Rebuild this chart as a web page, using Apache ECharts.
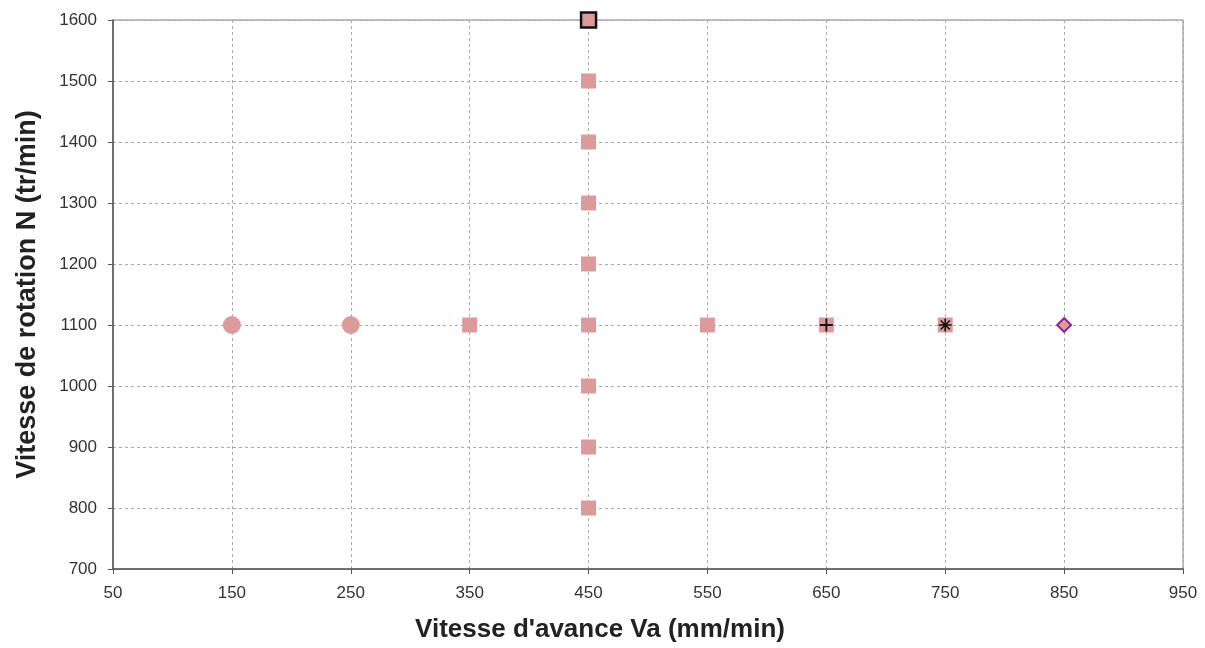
<!DOCTYPE html>
<html>
<head>
<meta charset="utf-8">
<script src="https://cdn.jsdelivr.net/npm/echarts@6/dist/echarts.min.js"></script>
<style>
  html, body { margin: 0; padding: 0; background: #fff; }
  #main { width: 1205px; height: 648px; }
</style>
</head>
<body>
<div id="main"></div>
<script>
// data
var xTicks = [50, 150, 250, 350, 450, 550, 650, 750, 850, 950];
var yTicks = [700, 800, 900, 1000, 1100, 1200, 1300, 1400, 1500, 1600];
var circlePts = [[150, 1100], [250, 1100]];
var squarePts = [[350, 1100], [450, 800], [450, 900], [450, 1000], [450, 1100],
                 [450, 1200], [450, 1300], [450, 1400], [450, 1500],
                 [550, 1100], [650, 1100], [750, 1100]];
var topPt = [[450, 1600]];
var plusPts = [[650, 1100]];
var starPts = [[750, 1100]];
var diamondPts = [[850, 1100]];

var pink = '#dc9a9a';
var font = '"Liberation Sans", Arial, sans-serif';

var chart = echarts.init(document.getElementById('main'));
chart.setOption({
  animation: false,
  textStyle: { fontFamily: font },
  grid: {
    left: 113, right: 22, top: 20, bottom: 77,
    show: true, borderColor: '#808080', borderWidth: 1
  },
  xAxis: {
    type: 'value', min: xTicks[0], max: xTicks[xTicks.length - 1], interval: 100,
    name: "Vitesse d'avance Va (mm/min)", nameLocation: 'middle', nameGap: 48,
    nameTextStyle: { fontSize: 26, fontWeight: 'bold', color: '#222', fontFamily: font,
                     padding: [0, 96, 0, 0] },
    axisLine: { lineStyle: { color: '#555', width: 1.5 } },
    axisTick: { show: true, inside: false, length: 5, lineStyle: { color: '#555' } },
    axisLabel: { fontSize: 17, color: '#333', margin: 16, formatter: function (v) { return String(v); } },
    splitLine: { show: true, lineStyle: { type: [3, 3], color: '#aaa' } }
  },
  yAxis: {
    type: 'value', min: yTicks[0], max: yTicks[yTicks.length - 1], interval: 100,
    name: 'Vitesse de rotation N (tr/min)', nameLocation: 'middle', nameGap: 72,
    nameTextStyle: { fontSize: 27, fontWeight: 'bold', color: '#222', fontFamily: font },
    axisLine: { show: true, lineStyle: { color: '#555', width: 1.5 } },
    axisTick: { show: true, inside: false, length: 5, lineStyle: { color: '#555' } },
    axisLabel: { fontSize: 17, color: '#333', margin: 16, formatter: function (v) { return String(v); } },
    splitLine: { show: true, lineStyle: { type: [3, 3], color: '#aaa' } }
  },
  series: [
    { type: 'scatter', data: circlePts, symbol: 'circle', symbolSize: 18,
      itemStyle: { color: pink, opacity: 1 } },
    { type: 'scatter', data: squarePts, symbol: 'rect', symbolSize: 15,
      itemStyle: { color: pink, opacity: 1 } },
    { type: 'scatter', data: topPt, symbol: 'rect', symbolSize: 15,
      itemStyle: { color: pink, borderColor: '#111', borderWidth: 2.5, opacity: 1 } },
    { type: 'scatter', data: plusPts, symbol: 'path://M0,5L10,5M5,0L5,10', symbolSize: 13,
      itemStyle: { color: 'none', borderColor: '#111', borderWidth: 1.8, opacity: 1 } },
    { type: 'scatter', data: starPts, symbol: 'path://M0,5L10,5M5,0L5,10M1.5,1.5L8.5,8.5M8.5,1.5L1.5,8.5', symbolSize: 13,
      itemStyle: { color: 'none', borderColor: '#111', borderWidth: 1.6, opacity: 1 } },
    { type: 'scatter', data: diamondPts, symbol: 'diamond', symbolSize: 14,
      itemStyle: { color: pink, borderColor: '#8a1a9a', borderWidth: 1.8, opacity: 1 } }
  ]
});
</script>
</body>
</html>
